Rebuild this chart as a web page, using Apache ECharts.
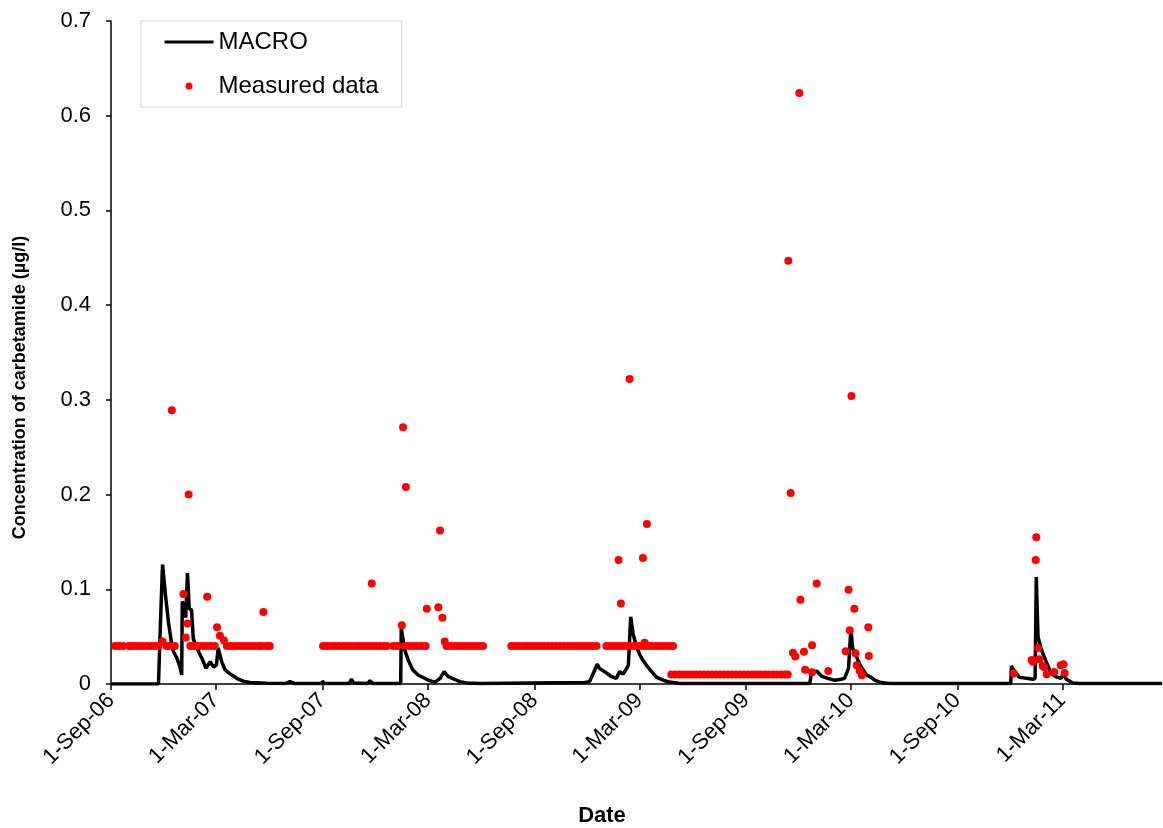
<!DOCTYPE html>
<html><head><meta charset="utf-8">
<script src="https://cdn.jsdelivr.net/npm/echarts@6/dist/echarts.min.js"></script>
<style>html,body{margin:0;padding:0;background:#fff}#c{width:1163px;height:828px}</style>
</head><body><div id="c"></div>
<script>
const xTickDates = ['2006-09-01','2007-03-01','2007-09-01','2008-03-01','2008-09-01','2009-03-01','2009-09-01','2010-03-01','2010-09-01','2011-03-01'];

const macroSeries = [
['2006-09-01',0],['2006-11-22',0],['2006-11-24',0.04],['2006-11-28',0.11],['2006-11-29',0.126],
['2006-12-04',0.094],['2006-12-09',0.066],['2006-12-15',0.041],['2006-12-18',0.034],['2006-12-24',0.027],
['2006-12-29',0.018],['2007-01-01',0.0095],['2007-01-02',0.087],['2007-01-06',0.083],['2007-01-08',0.07],
['2007-01-11',0.117],['2007-01-14',0.08],['2007-01-18',0.078],['2007-01-21',0.048],['2007-01-27',0.038],
['2007-02-05',0.027],['2007-02-12',0.0165],['2007-02-19',0.0236],['2007-02-25',0.018],['2007-03-02',0.02],
['2007-03-05',0.038],['2007-03-11',0.0236],['2007-03-17',0.0148],['2007-03-25',0.011],['2007-04-06',0.006],
['2007-04-17',0.003],['2007-04-29',0.0015],['2007-05-28',0.0007],['2007-06-28',0.0005],['2007-07-07',0.0025],
['2007-07-15',0.0005],['2007-08-31',0.0005],['2007-09-01',0.003],['2007-09-04',0.0005],['2007-10-17',0.0005],
['2007-10-21',0.005],['2007-10-25',0.001],['2007-11-18',0.0005],['2007-11-22',0.0035],['2007-11-27',0.0005],
['2008-01-14',0.0005],['2008-01-15',0.059],
['2008-01-21',0.036],['2008-01-27',0.025],['2008-02-04',0.0148],['2008-02-13',0.0095],['2008-03-01',0.0042],
['2008-03-13',0.0018],['2008-03-22',0.006],['2008-03-29',0.013],['2008-04-05',0.0077],['2008-04-16',0.005],
['2008-04-25',0.0025],['2008-05-07',0.001],['2008-05-30',0.0005],['2008-11-27',0.0015],['2008-12-05',0.0025],
['2008-12-14',0.0148],['2008-12-18',0.021],['2008-12-22',0.0165],['2008-12-31',0.013],['2009-01-12',0.0077],
['2009-01-20',0.006],['2009-01-26',0.013],['2009-02-01',0.0106],['2009-02-07',0.0165],['2009-02-10',0.02],
['2009-02-14',0.071],['2009-02-18',0.0535],['2009-02-24',0.039],['2009-03-02',0.0306],['2009-03-07',0.025],
['2009-03-13',0.02],['2009-03-22',0.013],['2009-03-31',0.007],['2009-04-11',0.004],['2009-04-22',0.002],
['2009-05-10',0.0005],['2009-12-20',0.0005],['2009-12-23',0.011],['2010-01-01',0.0137],['2010-01-09',0.0084],
['2010-01-20',0.006],['2010-02-01',0.004],['2010-02-12',0.005],['2010-02-18',0.006],['2010-02-25',0.0165],
['2010-03-01',0.059],['2010-03-04',0.038],['2010-03-09',0.0324],['2010-03-13',0.025],['2010-03-19',0.018],
['2010-03-28',0.0095],['2010-04-05',0.007],['2010-04-11',0.004],['2010-04-22',0.0015],['2010-05-07',0.0005],
['2010-12-02',0.0005],['2010-12-03',0.019],['2010-12-09',0.013],['2010-12-17',0.007],['2010-12-29',0.006],
['2011-01-09',0.005],['2011-01-13',0.006],['2011-01-15',0.113],['2011-01-18',0.05],['2011-01-23',0.0377],
['2011-02-01',0.0236],['2011-02-10',0.011],['2011-02-18',0.0077],['2011-02-27',0.006],['2011-03-02',0.011],
['2011-03-08',0.005],['2011-03-19',0.001],['2011-03-31',0.0005],['2011-08-20',0.0005]
];

const measuredSeries = [
['2006-09-08',0.04],['2006-09-15',0.04],['2006-09-22',0.04],['2006-10-02',0.04],['2006-10-06',0.04],
['2006-10-13',0.04],['2006-10-20',0.04],['2006-10-27',0.04],['2006-11-03',0.04],['2006-11-10',0.04],
['2006-11-17',0.04],['2006-11-22',0.04],['2006-11-29',0.045],['2006-12-06',0.04],['2006-12-10',0.04],
['2006-12-15',0.289],['2006-12-20',0.04],
['2007-01-04',0.095],['2007-01-08',0.049],['2007-01-11',0.064],['2007-01-13',0.2],['2007-01-16',0.04],
['2007-01-23',0.04],['2007-01-30',0.04],['2007-02-06',0.04],['2007-02-13',0.04],['2007-02-14',0.092],
['2007-02-20',0.04],['2007-02-27',0.04],['2007-03-03',0.06],['2007-03-08',0.051],['2007-03-15',0.046],
['2007-03-20',0.04],['2007-03-27',0.04],['2007-04-03',0.04],['2007-04-10',0.04],['2007-04-17',0.04],
['2007-04-24',0.04],['2007-05-01',0.04],['2007-05-08',0.04],['2007-05-15',0.04],['2007-05-20',0.04],
['2007-05-22',0.076],['2007-05-27',0.04],['2007-06-02',0.04],
['2007-09-02',0.04],['2007-09-09',0.04],['2007-09-16',0.04],['2007-09-23',0.04],['2007-09-30',0.04],
['2007-10-07',0.04],['2007-10-14',0.04],['2007-10-21',0.04],['2007-10-28',0.04],['2007-11-04',0.04],
['2007-11-11',0.04],['2007-11-18',0.04],['2007-11-25',0.04],['2007-11-25',0.106],['2007-12-02',0.04],
['2007-12-09',0.04],['2007-12-16',0.04],['2007-12-21',0.04],
['2008-01-01',0.04],['2008-01-08',0.04],['2008-01-16',0.062],['2008-01-18',0.271],['2008-01-22',0.04],
['2008-01-23',0.208],['2008-01-29',0.04],['2008-02-05',0.04],['2008-02-12',0.04],['2008-02-19',0.04],
['2008-02-26',0.04],['2008-02-28',0.0795],['2008-03-19',0.081],['2008-03-22',0.162],['2008-03-26',0.07],
['2008-03-30',0.045],['2008-04-02',0.04],['2008-04-09',0.04],['2008-04-16',0.04],['2008-04-23',0.04],
['2008-04-30',0.04],['2008-05-07',0.04],['2008-05-14',0.04],['2008-05-21',0.04],['2008-05-28',0.04],
['2008-06-04',0.04],
['2008-07-23',0.04],['2008-07-30',0.04],['2008-08-06',0.04],['2008-08-13',0.04],['2008-08-20',0.04],
['2008-08-27',0.04],['2008-09-03',0.04],['2008-09-10',0.04],['2008-09-17',0.04],['2008-09-24',0.04],
['2008-10-01',0.04],['2008-10-08',0.04],['2008-10-15',0.04],['2008-10-22',0.04],['2008-10-29',0.04],
['2008-11-05',0.04],['2008-11-12',0.04],['2008-11-19',0.04],['2008-11-26',0.04],['2008-12-03',0.04],
['2008-12-10',0.04],['2008-12-17',0.04],
['2009-01-03',0.04],['2009-01-10',0.04],['2009-01-17',0.04],['2009-01-24',0.04],['2009-01-24',0.131],
['2009-01-28',0.085],['2009-01-31',0.04],['2009-02-07',0.04],['2009-02-12',0.322],['2009-02-14',0.04],
['2009-02-21',0.04],['2009-02-28',0.04],['2009-03-07',0.04],['2009-03-07',0.133],['2009-03-10',0.0436],
['2009-03-14',0.169],['2009-03-14',0.04],['2009-03-21',0.04],['2009-03-28',0.04],['2009-04-04',0.04],
['2009-04-11',0.04],['2009-04-18',0.04],['2009-04-25',0.04],['2009-04-28',0.04],
['2009-04-25',0.01],['2009-05-02',0.01],['2009-05-09',0.01],['2009-05-16',0.01],['2009-05-23',0.01],
['2009-05-30',0.01],['2009-06-06',0.01],['2009-06-13',0.01],['2009-06-20',0.01],['2009-06-27',0.01],
['2009-07-04',0.01],['2009-07-11',0.01],['2009-07-18',0.01],['2009-07-25',0.01],['2009-08-01',0.01],
['2009-08-08',0.01],['2009-08-15',0.01],['2009-08-22',0.01],['2009-08-29',0.01],['2009-09-05',0.01],
['2009-09-12',0.01],['2009-09-19',0.01],['2009-09-26',0.01],['2009-10-03',0.01],['2009-10-10',0.01],
['2009-10-17',0.01],['2009-10-24',0.01],['2009-10-31',0.01],['2009-11-07',0.01],['2009-11-12',0.01],
['2009-11-13',0.447],['2009-11-17',0.2017],['2009-11-21',0.033],['2009-11-25',0.029],['2009-12-02',0.624],
['2009-12-04',0.089],['2009-12-10',0.034],['2009-12-12',0.015],['2009-12-24',0.041],['2009-12-24',0.0123],
['2010-01-01',0.106],['2010-01-21',0.0137],['2010-02-20',0.0345],['2010-02-25',0.0996],['2010-02-27',0.0567],
['2010-03-02',0.304],['2010-03-07',0.0795],['2010-03-09',0.0324],['2010-03-11',0.0197],['2010-03-16',0.014],
['2010-03-20',0.0092],['2010-03-31',0.060],['2010-04-01',0.0296],
['2010-12-07',0.011],['2011-01-07',0.0253],['2011-01-09',0.0236],['2011-01-14',0.131],['2011-01-15',0.155],
['2011-01-18',0.038],['2011-01-20',0.026],['2011-01-26',0.019],['2011-01-29',0.0176],['2011-02-02',0.0103],
['2011-02-15',0.0127],['2011-02-26',0.0197],['2011-03-03',0.0208],['2011-03-05',0.0116]
];

function toT(s){const p=s.split('-');return new Date(+p[0],+p[1]-1,+p[2]).getTime();}
const MON=['Jan','Feb','Mar','Apr','May','Jun','Jul','Aug','Sep','Oct','Nov','Dec'];
function fmtDate(v){const d=new Date(v);return d.getDate()+'-'+MON[d.getMonth()]+'-'+String(d.getFullYear()).slice(2);}
const tickVals = xTickDates.map(toT);
const FONT = "'Liberation Sans', Arial, sans-serif";

const chart = echarts.init(document.getElementById('c'), null, {renderer:'canvas'});
chart.setOption({
  animation:false,
  backgroundColor:'#fff',
  grid:{left:111,right:1,top:21,bottom:144,containLabel:false,outerBoundsMode:'none'},
  legend:{
    orient:'vertical',left:141,top:21,padding:[9,23,9,22],itemGap:20,itemWidth:49,itemHeight:7,
    borderColor:'#d4d4d4',borderWidth:1,borderRadius:0,backgroundColor:'#fff',
    textStyle:{fontFamily:FONT,fontSize:24,color:'#000'},
    data:[{name:'MACRO',lineStyle:{width:3,color:'#000'},itemStyle:{opacity:0}},{name:'Measured data',icon:'circle'}]
  },
  xAxis:{
    type:'value',min:toT('2006-09-01'),max:toT('2011-08-20'),scale:true,
    name:'Date',nameLocation:'middle',nameGap:121,
    nameTextStyle:{fontFamily:FONT,fontSize:22,fontWeight:'bold',color:'#000',padding:[0,69,0,0]},
    axisLine:{show:true,lineStyle:{color:'#000',width:1.5}},
    axisTick:{show:true,length:6,customValues:tickVals,lineStyle:{color:'#000',width:1.5}},
    axisLabel:{customValues:tickVals,formatter:fmtDate,rotate:45,margin:13,fontFamily:FONT,fontSize:22,color:'#000'},
    splitLine:{show:false}
  },
  yAxis:{
    type:'value',min:0,max:0.7,interval:0.1,
    name:'Concentration of carbetamide (µg/l)',nameLocation:'middle',nameGap:82,nameRotate:90,
    nameTextStyle:{fontFamily:FONT,fontSize:18,fontWeight:'bold',color:'#000',padding:[0,70,0,0]},
    axisLine:{show:true,lineStyle:{color:'#000',width:1.5}},
    axisTick:{show:true,length:5,lineStyle:{color:'#000',width:1.5}},
    axisLabel:{margin:20,fontFamily:FONT,fontSize:22,color:'#000',formatter:v=>String(Math.round(v*10)/10)},
    splitLine:{show:false}
  },
  series:[
    {name:'MACRO',type:'line',data:macroSeries.map(p=>[toT(p[0]),p[1]]),symbol:'none',showSymbol:false,
      lineStyle:{color:'#000',width:3.5},itemStyle:{color:'#000'},z:2},
    {name:'Measured data',type:'scatter',data:measuredSeries.map(p=>[toT(p[0]),p[1]]),symbol:'circle',symbolSize:8,
      itemStyle:{color:'#ff0000',opacity:1},z:3}
  ]
});
</script>
</body></html>
